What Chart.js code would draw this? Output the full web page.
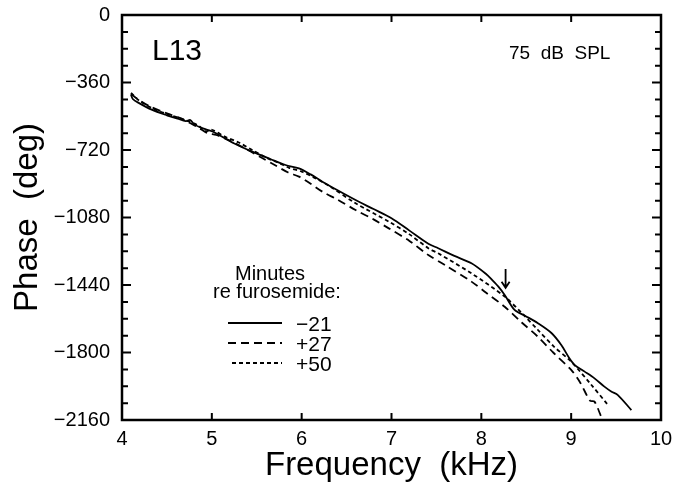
<!DOCTYPE html>
<html>
<head>
<meta charset="utf-8">
<script src="https://cdn.jsdelivr.net/npm/chart.js@4.4.0/dist/chart.umd.min.js"></script>
<style>
  html, body { margin: 0; padding: 0; background: #fff; }
  #wrap { width: 674px; height: 484px; }
</style>
</head>
<body>
<div id="wrap"><canvas id="chartcontainer"></canvas></div>
<script>
// values: frequency in kHz, phase in deg
var freqM21 = [4.10, 4.12, 4.19, 4.33, 4.50, 4.62, 4.71, 4.76, 4.80, 4.90, 5.00, 5.08, 5.25, 5.45, 5.65, 5.82, 5.97, 6.10, 6.23, 6.40, 6.60, 6.80, 7.00, 7.20, 7.41, 7.52, 7.70, 7.89, 8.05, 8.12, 8.19, 8.26, 8.37, 8.49, 8.63, 8.78, 8.89, 8.98, 9.04, 9.15, 9.26, 9.37, 9.45, 9.52, 9.67];
var phaseM21 = [-425, -448, -470, -505, -535, -553, -566, -560, -582, -605, -620, -640, -685, -729, -768, -800, -818, -850, -889, -935, -987, -1035, -1084, -1150, -1220, -1244, -1285, -1324, -1380, -1413, -1449, -1493, -1573, -1605, -1644, -1696, -1760, -1831, -1867, -1902, -1938, -1982, -2009, -2027, -2107];

var freqP27 = [4.10, 4.15, 4.30, 4.50, 4.65, 4.75, 4.85, 4.95, 5.05, 5.20, 5.40, 5.55, 5.70, 5.85, 5.97, 6.10, 6.23, 6.40, 6.60, 6.80, 6.97, 7.20, 7.41, 7.60, 7.89, 8.05, 8.26, 8.45, 8.63, 8.80, 9.00, 9.10, 9.21, 9.26, 9.34];
var phaseP27 = [-420, -440, -485, -525, -550, -575, -600, -630, -640, -670, -720, -760, -800, -840, -862, -900, -942, -985, -1040, -1090, -1138, -1205, -1280, -1335, -1422, -1480, -1556, -1640, -1716, -1800, -1893, -1960, -2057, -2062, -2150];

var freqP50 = [4.10, 4.20, 4.35, 4.50, 4.70, 4.85, 4.93, 5.00, 5.15, 5.30, 5.45, 5.60, 5.75, 5.86, 6.00, 6.15, 6.30, 6.60, 6.97, 7.20, 7.41, 7.52, 7.89, 8.26, 8.45, 8.63, 8.80, 9.00, 9.22, 9.41];
var phaseP50 = [-415, -460, -500, -528, -560, -590, -620, -612, -650, -680, -720, -760, -790, -815, -835, -870, -910, -1004, -1102, -1170, -1244, -1271, -1378, -1502, -1590, -1680, -1765, -1849, -1970, -2080];

var seriesLabels = ['\u221221', '+27', '+50'];
var legendTitle = ['Minutes', 're furosemide:'];
var xTicks = [4, 5, 6, 7, 8, 9, 10];
var yTicks = [0, -360, -720, -1080, -1440, -1800, -2160];
var arrowMark = [8.27, -1355, -1455]; // freq, top, tip

function toPoints(xs, ys) {
    var pts = [];
    for (var i = 0; i < xs.length; i++) pts.push({x: xs[i], y: ys[i]});
    return pts;
}

var dashes = [[], [8, 5], [4, 3]];

// frame, inward ticks, labels, arrow and legend
var decorPlugin = {
    id: 'decor',
    afterDraw: function(chart) {
        var ctx = chart.ctx;
        var a = chart.chartArea;
        var xs = chart.scales.x, ys = chart.scales.y;
        ctx.save();
        ctx.strokeStyle = '#000';
        ctx.lineWidth = 2.5;
        ctx.strokeRect(a.left, a.top, a.right - a.left, a.bottom - a.top);
        ctx.lineWidth = 2;
        ctx.beginPath();
        xTicks.forEach(function(v) {
            var px = xs.getPixelForValue(v);
            ctx.moveTo(px, a.bottom); ctx.lineTo(px, a.bottom - 7);
            ctx.moveTo(px, a.top); ctx.lineTo(px, a.top + 7);
        });
        for (var v = 0; v >= -2160; v -= 90) {
            var py = ys.getPixelForValue(v);
            var len = (v % 360 === 0) ? 9 : 6;
            ctx.moveTo(a.left, py); ctx.lineTo(a.left + len, py);
            ctx.moveTo(a.right, py); ctx.lineTo(a.right - len, py);
        }
        ctx.stroke();

        // arrow
        var ax = xs.getPixelForValue(arrowMark[0]);
        var ay1 = ys.getPixelForValue(arrowMark[1]);
        var ay2 = ys.getPixelForValue(arrowMark[2]);
        ctx.lineWidth = 1.8;
        ctx.beginPath();
        ctx.moveTo(ax, ay1); ctx.lineTo(ax, ay2);
        ctx.moveTo(ax - 4, ay2 - 6); ctx.lineTo(ax, ay2); ctx.lineTo(ax + 4, ay2 - 6);
        ctx.stroke();

        ctx.fillStyle = '#000';
        ctx.textBaseline = 'alphabetic';
        ctx.textAlign = 'left';
        ctx.font = '30px "Liberation Sans", Arial, sans-serif';
        ctx.fillText('L13', 152, 60);
        ctx.font = '19px "Liberation Sans", Arial, sans-serif';
        ctx.fillText('75  dB  SPL', 509, 59);

        // legend
        ctx.font = '20px "Liberation Sans", Arial, sans-serif';
        ctx.fillText(legendTitle[0], 235, 280);
        ctx.fillText(legendTitle[1], 213, 298);
        ctx.font = '21px "Liberation Sans", Arial, sans-serif';
        for (var i = 0; i < 3; i++) {
            var ly = 323 + i * 20;
            ctx.lineWidth = 1.8;
            ctx.setLineDash(dashes[i]);
            ctx.beginPath();
            ctx.moveTo(i === 2 ? 232 : 228, ly); ctx.lineTo(282, ly);
            ctx.stroke();
            ctx.setLineDash([]);
            ctx.fillText(seriesLabels[i], 296, ly + 8);
        }
        ctx.restore();
    }
};

var data_for_chart = {
    datasets: [
        { label: seriesLabels[0], data: toPoints(freqM21, phaseM21), borderColor: '#000', borderWidth: 1.8, borderDash: dashes[0], pointRadius: 0, tension: 0.3, fill: false },
        { label: seriesLabels[1], data: toPoints(freqP27, phaseP27), borderColor: '#000', borderWidth: 1.8, borderDash: dashes[1], pointRadius: 0, tension: 0.3, fill: false },
        { label: seriesLabels[2], data: toPoints(freqP50, phaseP50), borderColor: '#000', borderWidth: 1.8, borderDash: dashes[2], pointRadius: 0, tension: 0.3, fill: false }
    ]
};

var options = {
    responsive: false,
    animation: false,
    layout: { padding: { left: 0, right: 13, top: 15, bottom: 0 } },
    plugins: { legend: { display: false }, tooltip: { enabled: false }, title: { display: false } },
    scales: {
        x: {
            type: 'linear', min: 4, max: 10,
            afterBuildTicks: function(s) { s.ticks = xTicks.map(function(v) { return {value: v}; }); },
            afterFit: function(s) { s.height = 64; s.paddingLeft = 0; s.paddingRight = 0; },
            grid: { display: false, drawTicks: false },
            border: { display: false },
            ticks: { color: '#000', padding: 7, maxRotation: 0, font: { family: '"Liberation Sans", Arial, sans-serif', size: 20 } },
            title: { display: true, text: 'Frequency  (kHz)', color: '#000', padding: { top: 0, bottom: 2 },
                     font: { family: '"Liberation Sans", Arial, sans-serif', size: 33, lineHeight: 1 } }
        },
        y: {
            type: 'linear', min: -2160, max: 0,
            afterBuildTicks: function(s) { s.ticks = yTicks.map(function(v) { return {value: v}; }); },
            afterFit: function(s) { s.width = 122; s.paddingTop = 0; s.paddingBottom = 0; },
            grid: { display: false, drawTicks: false },
            border: { display: false },
            ticks: { color: '#000', padding: 12, font: { family: '"Liberation Sans", Arial, sans-serif', size: 20 },
                     callback: function(v) { return String(v).replace('-', '\u2212'); } },
            title: { display: true, text: 'Phase  (deg)', color: '#000', padding: { top: 11, bottom: 0 },
                     font: { family: '"Liberation Sans", Arial, sans-serif', size: 33, lineHeight: 1 } }
        }
    }
};

var ctx = document.getElementById('chartcontainer');
ctx.width = 674; ctx.height = 484;
var chart = new Chart(ctx, { type: 'line', data: data_for_chart, options: options, plugins: [decorPlugin] });
</script>
</body>
</html>
